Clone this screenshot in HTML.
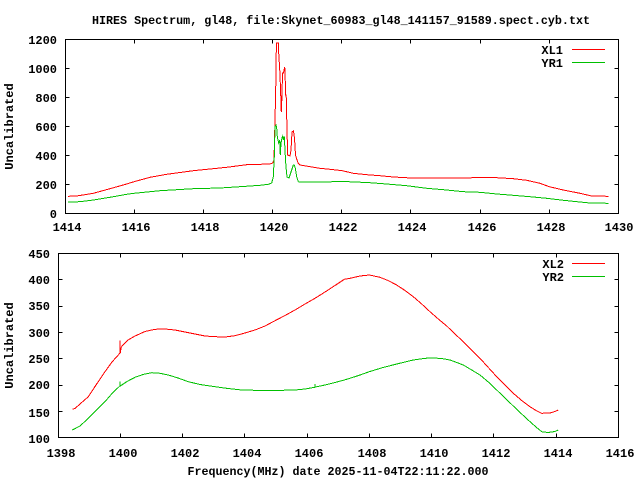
<!DOCTYPE html>
<html><head><meta charset="utf-8"><style>
html,body{margin:0;padding:0;background:#fff;}
svg{display:block;}
text{font-family:"Liberation Mono","DejaVu Sans Mono",monospace;font-weight:bold;font-size:12px;fill:#000;}
</style></head><body>
<svg width="640" height="480" viewBox="0 0 640 480" xmlns="http://www.w3.org/2000/svg">
<rect width="640" height="480" fill="#fff"/>
<!-- Title -->
<text x="341" y="24" text-anchor="middle" textLength="498" lengthAdjust="spacingAndGlyphs">HIRES Spectrum, gl48, file:Skynet_60983_gl48_141157_91589.spect.cyb.txt</text>

<!-- ===== TOP PLOT ===== -->
<g stroke="#000" stroke-width="1" fill="none" shape-rendering="crispEdges">
<rect x="65.5" y="39.5" width="553" height="174"/>
<path d="M65.5 68.5h4M65.5 97.5h4M65.5 126.5h4M65.5 155.5h4M65.5 184.5h4
M618.5 68.5h-4M618.5 97.5h-4M618.5 126.5h-4M618.5 155.5h-4M618.5 184.5h-4"/>
<path d="M134.5 213.5v-4M203.5 213.5v-4M272.5 213.5v-4M341.5 213.5v-4M410.5 213.5v-4M480.5 213.5v-4M549.5 213.5v-4
M134.5 39.5v4M203.5 39.5v4M272.5 39.5v4M341.5 39.5v4M410.5 39.5v4M480.5 39.5v4M549.5 39.5v4"/>
</g>
<g text-anchor="end">
<text x="57" y="44">1200</text>
<text x="57" y="73">1000</text>
<text x="57" y="102">800</text>
<text x="57" y="131">600</text>
<text x="57" y="160">400</text>
<text x="57" y="189">200</text>
<text x="57" y="218">0</text>
</g>
<g text-anchor="middle">
<text x="67" y="231">1414</text>
<text x="136" y="231">1416</text>
<text x="205" y="231">1418</text>
<text x="274" y="231">1420</text>
<text x="343" y="231">1422</text>
<text x="412" y="231">1424</text>
<text x="482" y="231">1426</text>
<text x="551" y="231">1428</text>
<text x="619" y="231">1430</text>
</g>
<text transform="translate(13,126.5) rotate(-90)" text-anchor="middle">Uncalibrated</text>
<text x="563" y="54" text-anchor="end">XL1</text>
<text x="563" y="67" text-anchor="end">YR1</text>
<line x1="572" y1="49.5" x2="605" y2="49.5" stroke="#ff0000" stroke-width="1" shape-rendering="crispEdges"/>
<line x1="572" y1="62.5" x2="605" y2="62.5" stroke="#00c000" stroke-width="1" shape-rendering="crispEdges"/>

<polyline fill="none" stroke="#ff0000" stroke-width="1" shape-rendering="crispEdges" points="
68,196.3 76.7,196 93.3,193.3 110,188.7 126.7,184 134,181.7 150,177.3 166.7,174.3 193.3,170.7 210,169 226.7,167.3 246.7,164.7 270,164 272.7,163
274,160 275,120 275.7,90 276.4,43 278.3,43 278.8,55 279.7,69 280.5,88 281.3,112 282,95 282.5,73 283.5,73 284.6,67 285,70 285.6,95 286.2,95 287,130 287.7,155 290,156 291,150 292,132 293.5,131 294.5,138 295.5,155 297,160 298.3,163.3
300,165 310,166.7 320,168.3 330,169.3 342.3,170.7 353.3,173.3 366.7,174.7 380,175.7 393.3,177 411.3,178 430,178 446.7,178 466.7,178 480,177.3 496.7,177.7 513.3,178.7 526.7,180.3 540,183.3 549.3,186.7 563.3,190 580,193.3 591.7,196 608.3,196.3"/>
<polyline fill="none" stroke="#00c000" stroke-width="1" shape-rendering="crispEdges" points="
68,202 80,201.7 93.3,200 110,197.3 126.7,194.3 134,193.3 160,190.7 176.7,189.7 193.3,188.7 220,188 240,186.7 260,185.3 268.3,184.3 271.7,183
273.3,176.7 274.3,156.7 275,126.7 276,125 276.7,128 277.3,136.7 278,140 278.7,143 279.7,140 280.3,155 281,143 282,138 282.7,136 283.7,140 284.3,136.7 285,150 285.7,163 286.3,170 287,177 289,178 290,175 291.7,170 293.3,165 294.3,165 295.3,168 296.7,176.7 298.3,181.7
300,182 326.7,182 340,181.3 370,182.7 386.7,184 406.7,185.7 426.7,188.3 446.7,190 463.3,191.7 480,192.3 496.7,194 513.3,195.3 530,196.7 546.7,198.3 563.3,200.3 580,202 590,203 608.3,203.3"/>

<!-- ===== BOTTOM PLOT ===== -->
<g stroke="#000" stroke-width="1" fill="none" shape-rendering="crispEdges">
<rect x="58.5" y="253.5" width="560" height="184"/>
<path d="M58.5 411.5h4M58.5 385.5h4M58.5 358.5h4M58.5 332.5h4M58.5 306.5h4M58.5 279.5h4
M618.5 411.5h-4M618.5 385.5h-4M618.5 358.5h-4M618.5 332.5h-4M618.5 306.5h-4M618.5 279.5h-4"/>
<path d="M120.5 437.5v-4M182.5 437.5v-4M244.5 437.5v-4M307.5 437.5v-4M369.5 437.5v-4M431.5 437.5v-4M493.5 437.5v-4M556.5 437.5v-4
M120.5 253.5v4M182.5 253.5v4M244.5 253.5v4M307.5 253.5v4M369.5 253.5v4M431.5 253.5v4M493.5 253.5v4M556.5 253.5v4"/>
</g>
<g text-anchor="end">
<text x="50" y="258">450</text>
<text x="50" y="284">400</text>
<text x="50" y="310">350</text>
<text x="50" y="337">300</text>
<text x="50" y="363">250</text>
<text x="50" y="389">200</text>
<text x="50" y="417">150</text>
<text x="50" y="443">100</text>
</g>
<g text-anchor="middle">
<text x="61" y="457">1398</text>
<text x="123" y="457">1400</text>
<text x="185" y="457">1402</text>
<text x="247" y="457">1404</text>
<text x="309" y="457">1406</text>
<text x="372" y="457">1408</text>
<text x="434" y="457">1410</text>
<text x="496" y="457">1412</text>
<text x="558" y="457">1414</text>
<text x="620" y="457">1416</text>
</g>
<text transform="translate(13,345.5) rotate(-90)" text-anchor="middle">Uncalibrated</text>
<text x="338" y="475" text-anchor="middle" textLength="301" lengthAdjust="spacingAndGlyphs">Frequency(MHz) date 2025-11-04T22:11:22.000</text>
<text x="564" y="268" text-anchor="end">XL2</text>
<text x="564" y="281" text-anchor="end">YR2</text>
<line x1="572" y1="263.5" x2="605" y2="263.5" stroke="#ff0000" stroke-width="1" shape-rendering="crispEdges"/>
<line x1="572" y1="276.5" x2="605" y2="276.5" stroke="#00c000" stroke-width="1" shape-rendering="crispEdges"/>

<polyline fill="none" stroke="#ff0000" stroke-width="1" shape-rendering="crispEdges" points="
72.3,409.3 75,408.5 80,404 88.3,396.7 96,385 105,371.7 112,362 119.8,353.3 120,340.7 120.3,353 121,348 122,346 128,340 135,336 145,331.5 155,329.3 165,329 175,330 185,332 195,334 205,336 215,336.7 225,337 235,335.7 245,333 255,330 265,326 275,320.7 285,315.5 295,310 305,304 315,298.3 325,292 335,285.5 344.3,279.3
350,278.3 360,276 369.3,275 380,277.3 388,280.5 396.7,285 405,290.5 413.3,296.7 421.7,304 430,311.7 438.3,319 446.7,326 455,334 463.3,341.7 471.7,350 480,358.3 488.3,367.5 496.7,376.7 505,385 513.3,393.3 521.7,400.5 530,406.7 536,410.5 541.7,413.3 550,413 555,411.5 558.3,410"/>
<polyline fill="none" stroke="#00c000" stroke-width="1" shape-rendering="crispEdges" points="
72.3,430 80,426 88.3,418.3 96,410.5 105,401.7 112,393.5 119.8,386 120,381.7 120.3,386 127,381.5 135,377.3 143,374.5 151.7,372.7 160,373.3 168.3,375 178,378 188.3,381.7 200,384.5 215,386.7 228,388.5 241.7,390 255,390.3 268.3,390.3 282,390.3 295,390 305,389 314.8,387.3 315,384 315.3,387 325,385 335,382.5 344.3,380
350,378.3 360,375 369.3,371.7 383,367.5 396.7,364 413.3,360 425,358.3 433.3,358 441.7,358.5 450,360 456.7,362.5 463.3,365 471.7,370 480,375 488.3,382 496.7,390 505,398 513.3,406 521.7,414 530,421.7 536,427 541.7,431.7 548,432.5 555,431.5 558.3,430"/>
</svg>
</body></html>
